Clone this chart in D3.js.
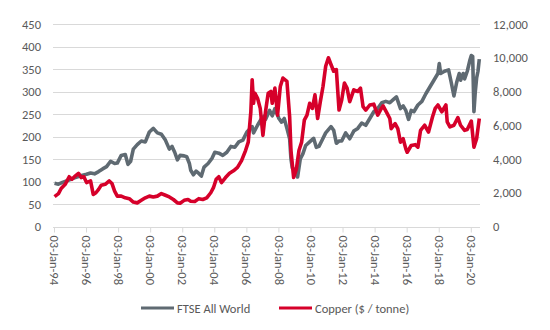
<!DOCTYPE html>
<html>
<head>
<meta charset="utf-8">
<script src="https://cdn.jsdelivr.net/npm/d3@7"></script>
<style>
  html, body { margin: 0; padding: 0; background: #fff; }
  text { font-family: Calibri, Carlito, "Liberation Sans", Arial, sans-serif; fill: #595959; }
</style>
</head>
<body>
<svg id="chart" width="550" height="330"></svg>
<script>
// ---- data ----
const ftseDates = ["1994-01","1994-04","1994-07","1994-10","1995-01","1995-04","1995-07","1995-10","1996-01","1996-04","1996-07","1996-10",
"1997-01","1997-04","1997-07","1997-10","1997-12","1998-03","1998-06","1998-08","1998-10","1998-12","1999-03","1999-06","1999-09","1999-12",
"2000-03","2000-06","2000-09","2000-12","2001-03","2001-05","2001-07","2001-09","2001-11","2002-02","2002-04","2002-06","2002-07","2002-09","2002-11",
"2003-01","2003-03","2003-05","2003-08","2003-11","2004-01","2004-04","2004-07","2004-10","2005-01","2005-04","2005-07","2005-10",
"2006-01","2006-05","2006-06","2006-09","2006-12","2007-02","2007-03","2007-06","2007-08","2007-10","2008-01","2008-03","2008-05","2008-07","2008-09","2008-10","2008-11",
"2009-01","2009-03","2009-05","2009-07","2009-09","2009-12","2010-03","2010-05","2010-07","2010-09","2010-12","2011-04","2011-06","2011-08","2011-10","2011-12",
"2012-03","2012-06","2012-09","2012-12","2013-03","2013-06","2013-09","2013-12","2014-03","2014-06","2014-09","2014-12","2015-03","2015-05","2015-08","2015-10","2015-12",
"2016-02","2016-04","2016-06","2016-09","2016-12","2017-03","2017-06","2017-09","2017-12","2018-01","2018-02","2018-05","2018-08","2018-10","2018-12",
"2019-02","2019-04","2019-05","2019-07","2019-08","2019-10","2019-12","2020-01","2020-02","2020-03","2020-04","2020-05","2020-06","2020-07"];
const ftseValues = [96,94,98,101,105,108,111,114,116,119,117,122,
128,133,145,140,141,158,160,138,145,172,182,190,188,210,
218,208,205,192,172,178,165,148,158,157,155,140,125,115,123,
118,112,132,140,152,165,163,158,165,178,176,188,192,
210,222,208,225,240,245,238,258,246,262,240,232,240,218,195,150,130,
125,110,150,162,180,188,196,176,178,190,208,222,214,185,190,190,
208,195,212,218,230,225,240,255,262,275,278,275,283,288,262,268,258,
238,258,255,270,278,295,310,325,340,362,340,345,348,320,290,
320,340,325,340,328,345,370,380,378,255,300,330,345,372];

const copperDates = ["1994-01","1994-04","1994-06","1994-09","1994-12","1995-02","1995-04","1995-07","1995-09","1995-11","1996-01","1996-04","1996-06","1996-08","1996-10","1996-12",
"1997-03","1997-06","1997-08","1997-10","1997-12","1998-03","1998-06","1998-09","1998-12","1999-03","1999-06","1999-09","1999-12",
"2000-03","2000-06","2000-09","2000-12","2001-03","2001-06","2001-09","2001-11","2002-02","2002-05","2002-07","2002-10",
"2003-01","2003-04","2003-07","2003-10","2003-12","2004-02","2004-04","2004-06","2004-09","2004-12","2005-03","2005-06","2005-09","2005-12",
"2006-02","2006-04","2006-05","2006-06","2006-07","2006-09","2006-11","2007-01","2007-03","2007-05","2007-07","2007-08","2007-10","2007-12",
"2008-02","2008-04","2008-07","2008-09","2008-10","2008-12","2009-02","2009-04","2009-06","2009-08","2009-10","2009-12",
"2010-02","2010-04","2010-06","2010-08","2010-10","2010-12","2011-02","2011-04","2011-06","2011-08","2011-10","2011-12",
"2012-02","2012-04","2012-06","2012-09","2012-12","2013-02","2013-04","2013-06","2013-09","2013-12",
"2014-03","2014-05","2014-07","2014-10","2014-12","2015-01","2015-04","2015-06","2015-08","2015-10","2015-12",
"2016-01","2016-04","2016-07","2016-09","2016-11","2017-02","2017-05","2017-08","2017-10","2017-12",
"2018-03","2018-06","2018-07","2018-09","2018-12","2019-03","2019-05","2019-08","2019-10","2020-01","2020-03","2020-05","2020-07"];
const copperValues = [1770,1950,2250,2500,2950,2800,2950,3150,2900,2950,2600,2700,1900,2000,2200,2450,
2500,2700,2550,2100,1800,1800,1700,1650,1450,1400,1550,1700,1800,
1750,1800,1950,1850,1750,1600,1400,1380,1550,1600,1500,1480,
1650,1600,1700,2000,2300,2800,2950,2600,2900,3150,3300,3500,3900,4500,
5000,6800,8700,7300,7900,7600,7000,5400,6800,7900,8000,7300,8200,6600,
8300,8800,8600,6500,4500,2900,3400,4500,5000,6300,6600,7300,
7000,7800,6400,7400,8300,9500,10000,9600,9200,9300,6900,7500,
8500,8200,7400,8100,8000,8200,7100,6900,7200,7250,
6600,6900,7150,6700,6400,5800,6100,5800,5000,5200,4600,
4400,4800,4850,4700,5700,6000,5600,6500,7000,7200,
6800,7200,6200,5900,6000,6450,6000,5700,5750,6250,4700,5200,6400];

const leftTicks = [0,50,100,150,200,250,300,350,400,450];
const rightTicks = [0,2000,4000,6000,8000,10000,12000];
const xTickYears = [1994,1996,1998,2000,2002,2004,2006,2008,2010,2012,2014,2016,2018,2020];
const seriesNames = ["FTSE All World","Copper ($ / tonne)"];
const seriesColors = ["#5f6a72","#d6002a"];

// ---- chart ----
const svg = d3.select("#chart");
const parse = d3.timeParse("%Y-%m");
const mid = s => d3.timeDay.offset(parse(s), 14);

const x = d3.scaleTime().domain([new Date(1994,0,3), new Date(2020,6,31)]).range([54, 480]);
const yL = d3.scaleLinear().domain([0,450]).range([226.5, 24]);
const yR = d3.scaleLinear().domain([0,12000]).range([226.5, 24]);

// gridlines
svg.append("g").selectAll("line").data(leftTicks.filter(d => d > 0)).join("line")
  .attr("x1", 53).attr("x2", 480)
  .attr("y1", d => Math.round(yL(d)) + 0.5).attr("y2", d => Math.round(yL(d)) + 0.5)
  .attr("stroke", "#d9d9d9").attr("stroke-width", 1);

// left axis labels
svg.append("g").selectAll("text").data(leftTicks).join("text")
  .attr("x", 41).attr("y", d => yL(d)).attr("text-anchor", "end")
  .attr("dominant-baseline", "central").style("font-size", "12.5px").text(d => d);

// right axis labels
svg.append("g").selectAll("text").data(rightTicks).join("text")
  .attr("x", 493).attr("y", d => yR(d)).attr("text-anchor", "start")
  .attr("dominant-baseline", "central").style("font-size", "12.5px").text(d => d3.format(",")(d));

// x axis
const xAxis = d3.axisBottom(x)
  .tickValues(xTickYears.map(yr => new Date(yr,0,3)))
  .tickFormat(d3.timeFormat("%d-%b-%y"))
  .tickSizeInner(5).tickSizeOuter(0);
const gx = svg.append("g").attr("transform", "translate(0," + (Math.round(yL(0)) + 0.5) + ")").call(xAxis);
gx.select(".domain").attr("stroke", "#d9d9d9").attr("d", "M53,0H480");
gx.selectAll(".tick line").attr("stroke", "#d9d9d9");
gx.selectAll(".tick text")
  .attr("transform", "rotate(90)")
  .attr("x", 8).attr("y", 0).attr("dy", "0.35em")
  .attr("text-anchor", "start")
  .style("font-size", "12.5px").style("font-family", "Calibri, Carlito, 'Liberation Sans', Arial, sans-serif")
  .attr("fill", "#595959");

// lines
const lineL = d3.line().x(d => x(d[0])).y(d => yL(d[1]));
const lineR = d3.line().x(d => x(d[0])).y(d => yR(d[1]));
const ftse = ftseDates.map((s,i) => [mid(s), ftseValues[i]]);
const copper = copperDates.map((s,i) => [mid(s), copperValues[i]]);

svg.append("path").datum(ftse).attr("d", lineL)
  .attr("fill", "none").attr("stroke", seriesColors[0]).attr("stroke-width", 3.6)
  .attr("stroke-linejoin", "round");
svg.append("path").datum(copper).attr("d", lineR)
  .attr("fill", "none").attr("stroke", seriesColors[1]).attr("stroke-width", 3.6)
  .attr("stroke-linejoin", "round");

// legend
const legendItems = [{x: 141}, {x: 279}];
const lg = svg.append("g");
legendItems.forEach((it, i) => {
  lg.append("line").attr("x1", it.x).attr("x2", it.x + 33)
    .attr("y1", 308).attr("y2", 308).attr("stroke", seriesColors[i]).attr("stroke-width", 3.2);
  lg.append("text").attr("x", it.x + 36).attr("y", 308).attr("dominant-baseline", "central")
    .style("font-size", "12.5px").text(seriesNames[i]);
});
</script>
</body>
</html>
